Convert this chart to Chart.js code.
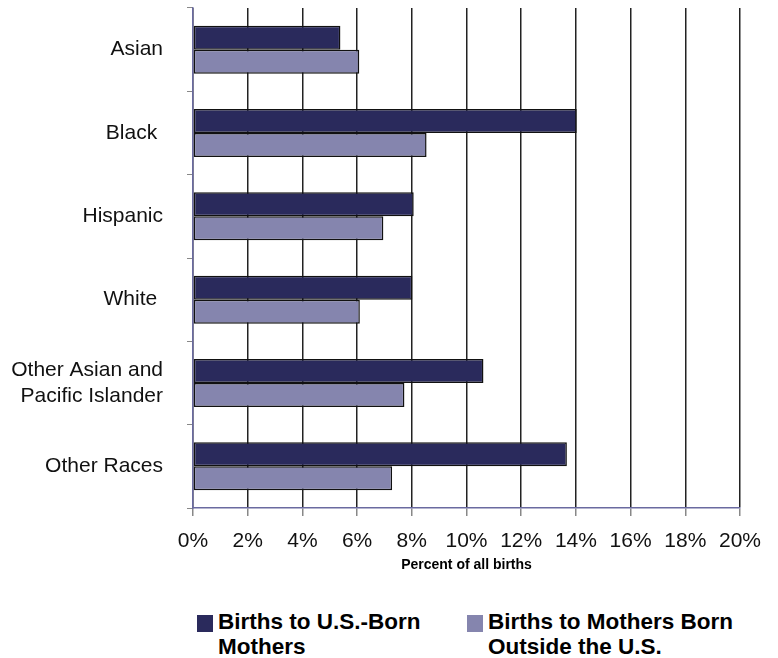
<!DOCTYPE html>
<html>
<head>
<meta charset="utf-8">
<script src="https://cdn.jsdelivr.net/npm/chart.js@4.4.0/dist/chart.umd.min.js"></script>
<style>
  html, body { margin: 0; padding: 0; background: #fff; }
  #wrap { position: relative; width: 778px; height: 580px; }
  #legend { position: relative; width: 778px; height: 78px; font-family: Arial, "Liberation Sans", sans-serif; }
  .item { position: absolute; top: 29px; font-weight: bold; font-size: 22.5px; line-height: 25px; color: #000; }
  .box { position: absolute; top: 6px; width: 16px; height: 17px; }
</style>
</head>
<body>
<div id="wrap"><canvas id="chart"></canvas></div>
<div id="legend"></div>
<script>
var categories = ["Asian", "Black ", "Hispanic", "White ", ["Other Asian and", "Pacific Islander"], "Other Races"];
var usBorn = [5.39, 14.03, 8.07, 8.02, 10.62, 13.67];
var foreignBorn = [6.08, 8.54, 6.96, 6.1, 7.73, 7.28];
var seriesNames = ["Births to U.S.-Born Mothers", "Births to Mothers Born Outside the U.S."];
var legendLines = [["Births to U.S.-Born", "Mothers"], ["Births to Mothers Born", "Outside the U.S."]];
var colors = ["#2a2a5c", "#8585ae"];

var font = "Arial, 'Liberation Sans', sans-serif";
Chart.defaults.font.family = font;
Chart.defaults.color = "#000";

var ctx = document.getElementById("chart");
var chart = new Chart(ctx, {
    type: 'bar',
    data: {
        labels: categories,
        datasets: [{
            label: seriesNames[0],
            data: usBorn,
            backgroundColor: colors[0],
            borderColor: "#111",
            borderWidth: 1.5,
            borderSkipped: false
        }, {
            label: seriesNames[1],
            data: foreignBorn,
            backgroundColor: colors[1],
            borderColor: "#111",
            borderWidth: 1.5,
            borderSkipped: false
        }]
    },
    options: {
        indexAxis: 'y',
        responsive: true,
        maintainAspectRatio: false,
        animation: false,
        layout: { padding: { top: 8, right: 38, bottom: 6, left: 0 } },
        plugins: {
            legend: { display: false },
            tooltip: { enabled: false }
        },
        datasets: {
            bar: { categoryPercentage: 0.576, barPercentage: 1 }
        },
        scales: {
            x: {
                min: 0,
                max: 20,
                ticks: {
                    stepSize: 2,
                    padding: 13,
                    font: { size: 21 },
                    color: "#111",
                    callback: function (v) { return v + '%'; }
                },
                grid: { color: "#222", lineWidth: 1.5, tickLength: 8, tickColor: "#888" },
                border: { color: "#6a6aa0", width: 1.5 },
                title: {
                    display: true,
                    text: "Percent of all births",
                    font: { size: 14, weight: 'bold' },
                    padding: { top: 4, bottom: 0 }
                },
                afterFit: function (scale) { scale.height = 66; }
            },
            y: {
                ticks: { padding: 24, font: { size: 21, lineHeight: 1.25 }, color: "#111" },
                grid: { drawOnChartArea: false, tickLength: 6, color: "#888" },
                border: { color: "#6a6aa0", width: 1.5 },
                afterFit: function (scale) {
                    scale.width = 193;
                    scale.paddingTop = 0;
                    scale.paddingBottom = 0;
                }
            }
        }
    }
});

// legend below the chart, two-line labels
var lg = document.getElementById("legend");
var lefts = [197, 467];
chart.data.datasets.forEach(function (ds, i) {
    var box = document.createElement("div");
    box.className = "box";
    box.style.left = "0px";
    box.style.background = ds.backgroundColor;
    var item = document.createElement("div");
    item.className = "item";
    item.style.left = lefts[i] + "px";
    item.style.paddingLeft = "21px";
    item.appendChild(box);
    legendLines[i].forEach(function (t, j) {
        if (j > 0) item.appendChild(document.createElement("br"));
        item.appendChild(document.createTextNode(t));
    });
    lg.appendChild(item);
});
</script>
</body>
</html>
